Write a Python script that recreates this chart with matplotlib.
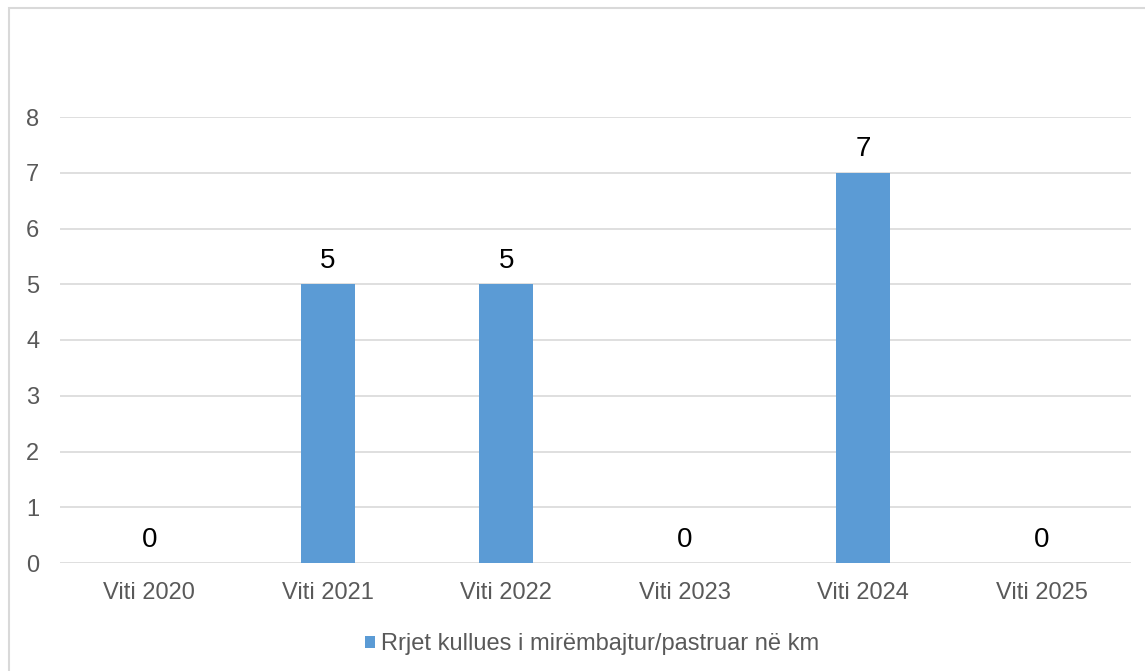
import matplotlib
matplotlib.use("Agg")
import matplotlib.pyplot as plt
from matplotlib.patches import Rectangle

categories = ["Viti 2020", "Viti 2021", "Viti 2022", "Viti 2023", "Viti 2024", "Viti 2025"]
values = [0, 5, 5, 0, 7, 0]
series_name = "Rrjet kullues i mirëmbajtur/pastruar në km"
yticks = [0, 1, 2, 3, 4, 5, 6, 7, 8]

plt.rcParams['font.family'] = ['Liberation Sans', 'DejaVu Sans']

W, H = 1145, 671
fig = plt.figure(figsize=(W / 100, H / 100), dpi=100)
ax = fig.add_axes([60 / W, 1 - 563 / H, (1131 - 60) / W, (563 - 117) / H])

x = list(range(len(categories)))
bars = ax.bar(x, values, width=0.30, color="#5B9BD5", label=series_name, zorder=3)
ax.set_xlim(-0.5, len(categories) - 0.5)
ax.set_ylim(0, 8)
ax.set_yticks(yticks)
ax.set_xticks(x)
ax.set_xticklabels(categories)
ax.grid(axis="y", color="#D9D9D9", linewidth=1.2, zorder=0)
for s in ax.spines.values():
    s.set_visible(False)
ax.tick_params(axis="both", length=0, labelsize=17, labelcolor="#595959")
ax.tick_params(axis="x", pad=14)
ax.tick_params(axis="y", pad=15)

for xi, v in zip(x, values):
    ax.annotate(str(v), (xi, v), xytext=(0, 7.5), textcoords="offset points",
                ha="center", va="bottom", fontsize=20, color="black")

leg = fig.legend(handles=[bars], labels=[series_name], loc="center",
                 bbox_to_anchor=(592 / W, 1 - 644 / H), frameon=False,
                 fontsize=17, handlelength=0.4, handleheight=0.4,
                 handletextpad=0.25)
for t in leg.get_texts():
    t.set_color("#595959")

fig.patches.append(Rectangle((9 / W, -0.1), 1.2, 1 - 8 / H + 0.1,
                             transform=fig.transFigure, fill=False,
                             edgecolor="#D9D9D9", linewidth=1.5))

fig.savefig("out.png", dpi=100)
